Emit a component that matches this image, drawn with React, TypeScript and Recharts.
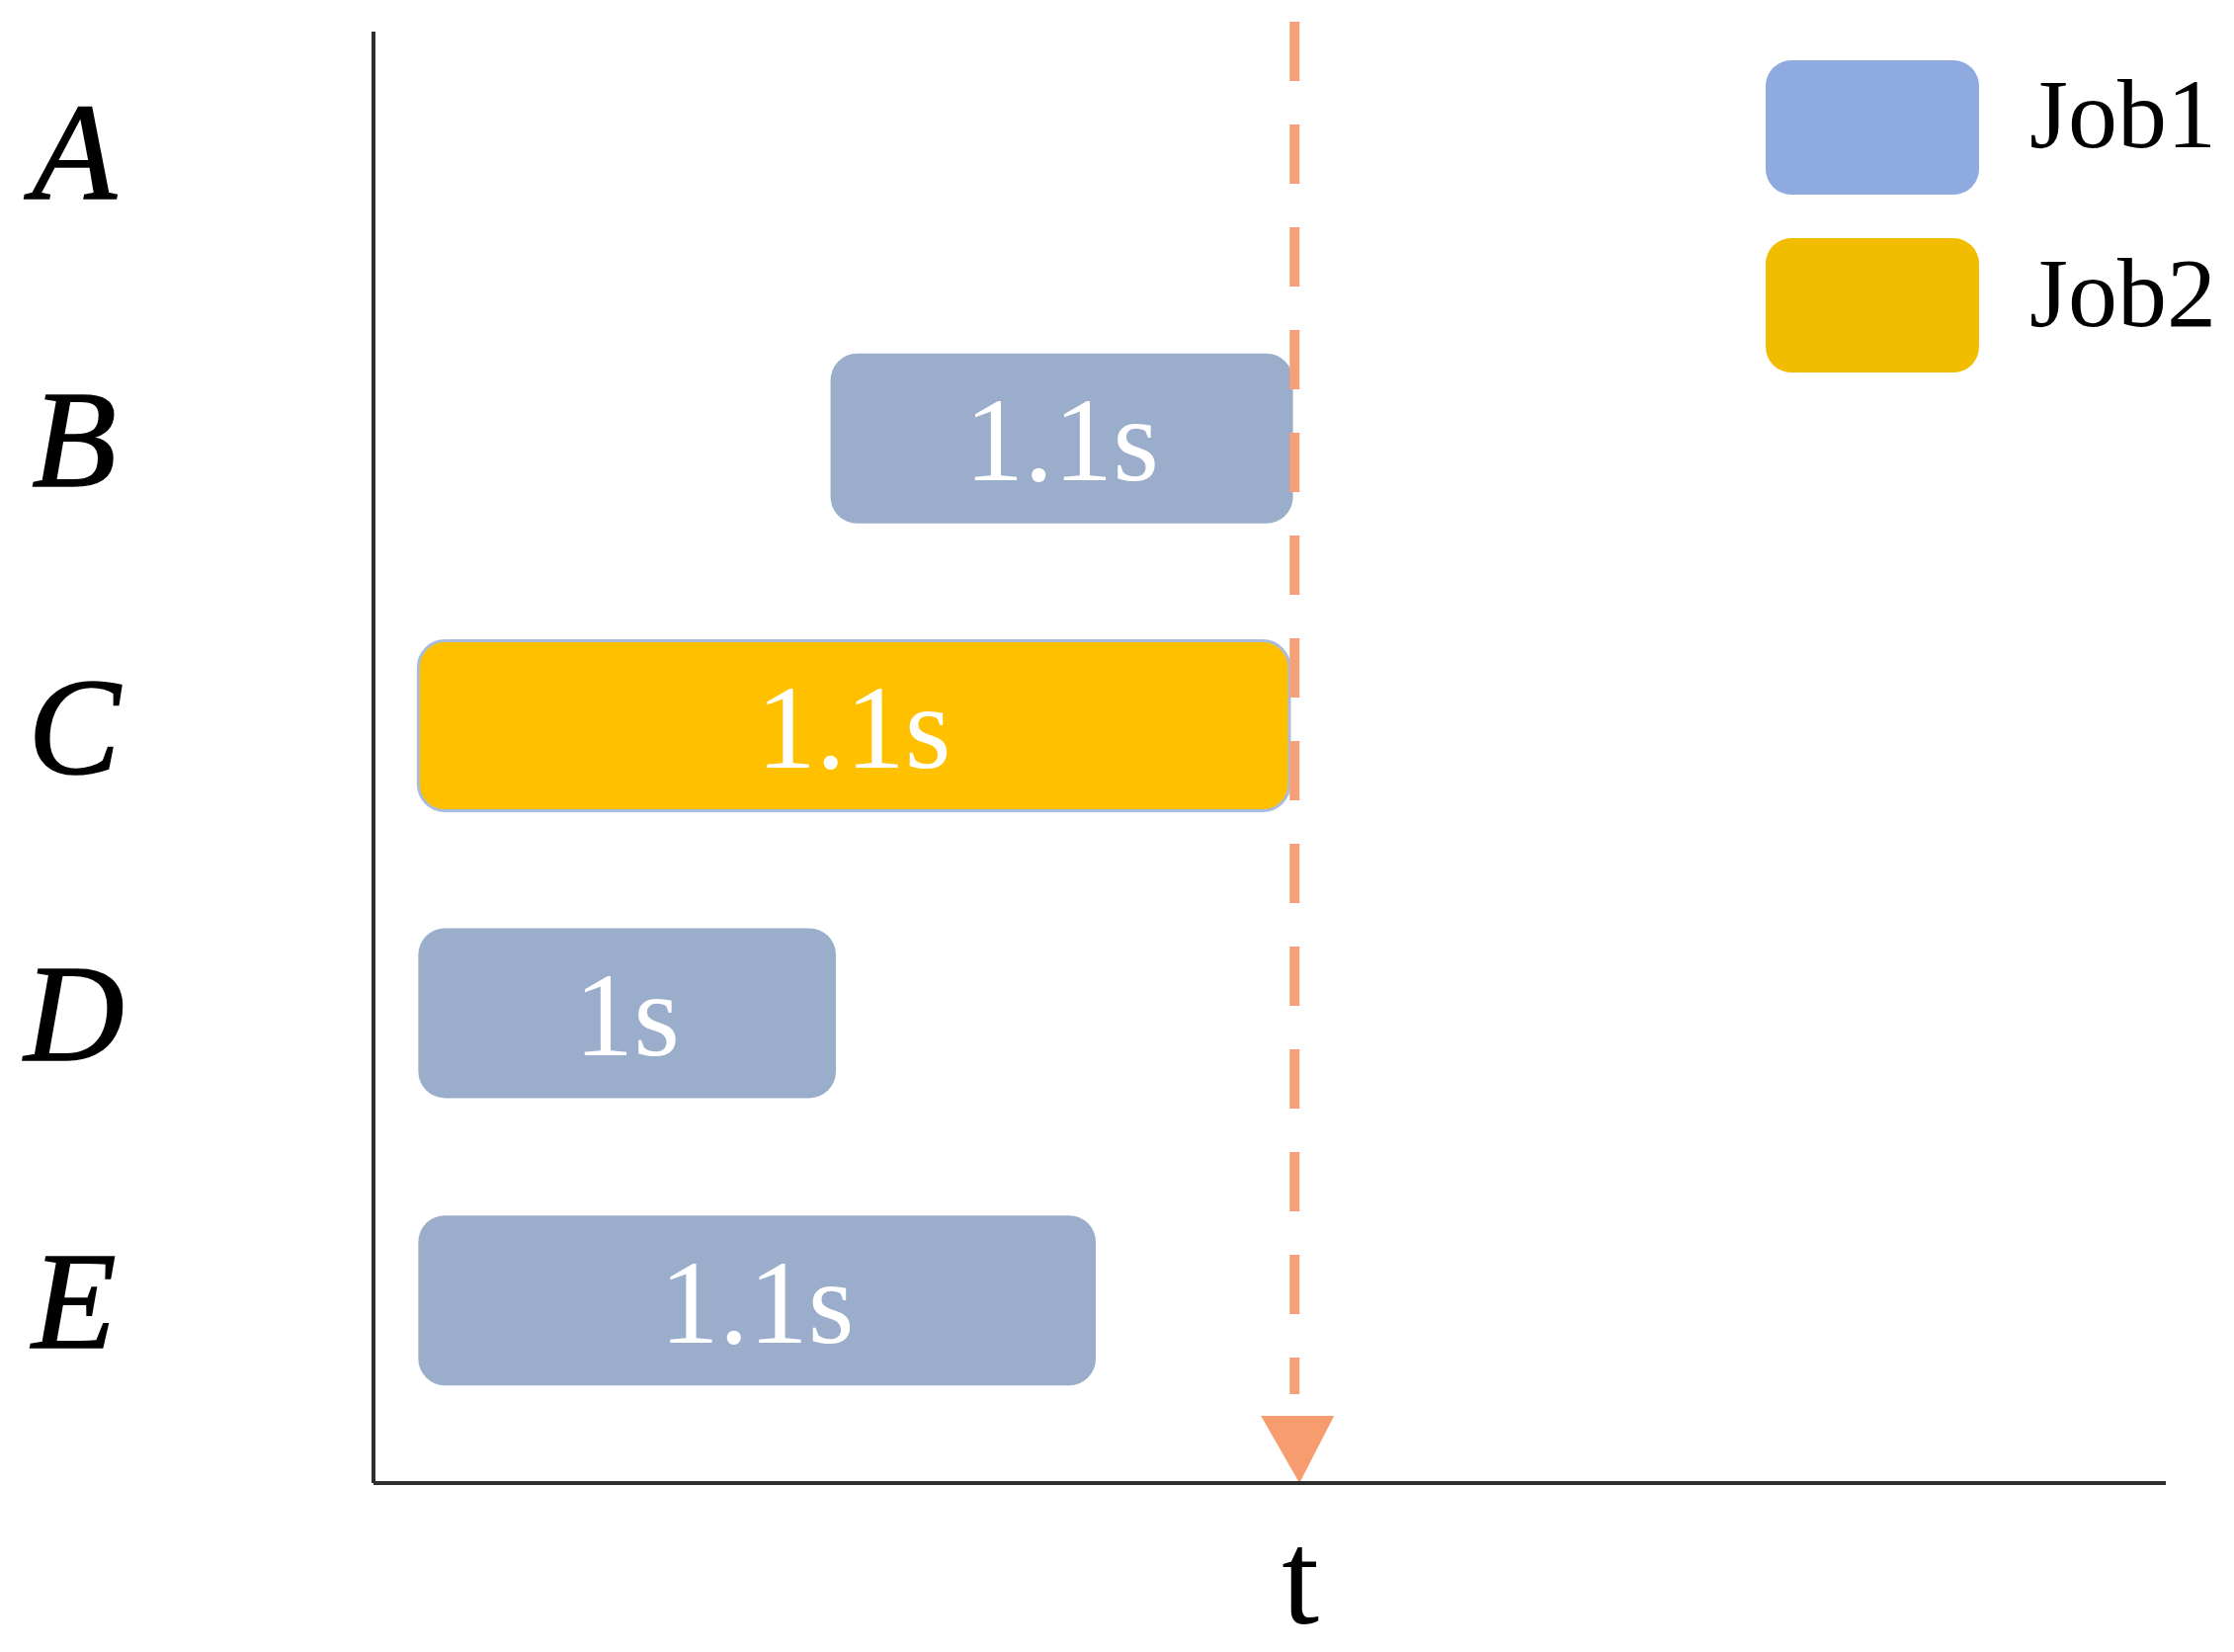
import React from 'react';
import { BarChart, Bar, XAxis, YAxis, ReferenceLine, LabelList, Legend } from 'recharts';

const categories = ['A', 'B', 'C', 'D', 'E'];
const startTimes = [0, 2.55, 0.25, 0.25, 0.25];
const job1Durations = [0, 2.58, 0, 2.33, 3.78];
const job2Durations = [0, 0, 4.86, 0, 0];
const durationLabels = ['', '1.1s', '1.1s', '1s', '1.1s'];
const seriesNames = ['Job1', 'Job2'];
const tMarker = 5.15;
const tLabel = 't';

const JOB1_BAR = '#9AADCB';
const JOB2_BAR = '#FFC000';
const JOB1_LEGEND = '#8FAADF';
const JOB2_LEGEND = '#F2BC00';
const DASH = '#F6A07A';
const SERIF = "'Liberation Serif', 'Times New Roman', serif";

const data = categories.map((name, i) => ({
  name,
  offset: startTimes[i],
  job1: job1Durations[i],
  job2: job2Durations[i],
  job1Label: job1Durations[i] > 0 ? durationLabels[i] : '',
  job2Label: job2Durations[i] > 0 ? durationLabels[i] : '',
}));

const YTick = (props: any) => {
  const { y, payload } = props;
  return (
    <text
      x={75}
      y={y}
      textAnchor="middle"
      dominantBaseline="central"
      fontFamily={SERIF}
      fontStyle="italic"
      fontSize={140}
      fill="#000"
      stroke="#000"
      strokeWidth={1.5}
    >
      {payload.value}
    </text>
  );
};

const XTick = (props: any) => {
  const { x, y } = props;
  return (
    <text x={x + 4} y={y} dy={134} textAnchor="middle" fontFamily={SERIF} fontSize={136} fill="#000">
      {tLabel}
    </text>
  );
};

const MarkerShape = (props: any) => {
  const { x1, y1, y2 } = props;
  const x = x1;
  const top = Math.min(y1, y2);
  const bottom = Math.max(y1, y2);
  const triTop = bottom - 68;
  return (
    <g>
      <line x1={x - 2} y1={top - 10} x2={x - 2} y2={triTop - 22} stroke={DASH} strokeWidth={10} strokeDasharray="60 44" />
      <polygon points={`${x - 36},${triTop} ${x + 38},${triTop} ${x + 3},${bottom}`} fill="#F79C6E" />
    </g>
  );
};

const LegendContent = () => {
  const colors = [JOB1_LEGEND, JOB2_LEGEND];
  return (
    <svg width={481} height={340} style={{ display: 'block' }}>
      {seriesNames.map((n, i) => (
        <g key={n}>
          <rect x={7} y={11 + i * 180} width={216} height={136} rx={26} ry={26} fill={colors[i]} />
          <text x={274} y={99 + i * 181} fontFamily={SERIF} fontSize={100} fill="#000">
            {n}
          </text>
        </g>
      ))}
    </svg>
  );
};

export default function App() {
  return (
    <div style={{ position: 'absolute', left: 0, top: 0, width: 2261, height: 1672, background: '#fff' }}>
      <BarChart
        width={2261}
        height={1672}
        data={data}
        layout="vertical"
        margin={{ top: 32, right: 69, bottom: 0, left: 0 }}
        barCategoryGap={0}
      >
        <XAxis
          type="number"
          domain={[0, 10]}
          ticks={[tMarker]}
          tick={<XTick />}
          tickLine={false}
          axisLine={{ stroke: '#2e2e2e', strokeWidth: 4 }}
          height={171}
          allowDataOverflow
        />
        <YAxis
          type="category"
          dataKey="name"
          width={378}
          tick={<YTick />}
          tickLine={false}
          axisLine={{ stroke: '#2e2e2e', strokeWidth: 4 }}
          padding={{ top: -24, bottom: 39 }}
        />
        <ReferenceLine x={tMarker} stroke={DASH} shape={<MarkerShape />} />
        <Bar dataKey="offset" stackId="s" fill="transparent" barSize={172} isAnimationActive={false} legendType="none" />
        <Bar dataKey="job1" name={seriesNames[0]} stackId="s" fill={JOB1_BAR} barSize={172} radius={27} isAnimationActive={false}>
          <LabelList dataKey="job1Label" position="center" fill="#fff" fontFamily={SERIF} fontSize={120} />
        </Bar>
        <Bar
          dataKey="job2"
          name={seriesNames[1]}
          stackId="s"
          fill={JOB2_BAR}
          stroke="#A9BCDD"
          strokeWidth={3}
          barSize={172}
          radius={27}
          isAnimationActive={false}
        >
          <LabelList dataKey="job2Label" position="center" fill="#fff" stroke="none" fontFamily={SERIF} fontSize={120} />
        </Bar>
        <Legend
          layout="vertical"
          align="center"
          verticalAlign="middle"
          content={<LegendContent />}
          wrapperStyle={{ position: 'absolute', left: 1780, top: 50, width: 481, height: 340 }}
        />
      </BarChart>
    </div>
  );
}
